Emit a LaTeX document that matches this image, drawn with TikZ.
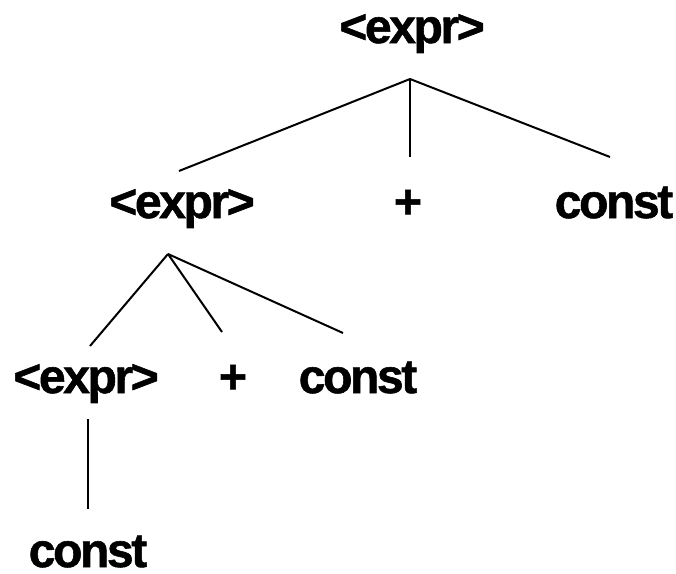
\documentclass[tikz,border=0pt]{standalone}
\usepackage{fontspec}
\newfontfamily\treefont{Liberation Sans}[LetterSpace=-5, BoldFeatures = {FakeBold = 1.2}]
\tikzset{
    sym/.style = {inner sep = 0, anchor = base, text height = 36pt, text depth = 10pt,
        font = \treefont\bfseries\fontsize{48}{52}\selectfont},
}
\begin{document}
\begin{tikzpicture}[x = 1pt, y = -1pt, line width = 2pt]
        \useasboundingbox (0, 0) rectangle (676, 573);
        \node [sym] (e0) at (412, 43) {<expr>};
        \node [sym] (e1) at (182, 218) {<expr>};
        \node [sym] (p1) at (408, 218) {+};
        \node [sym] (c1) at (614, 218) {const};
        \node [sym] (e2) at (86, 393) {<expr>};
        \node [sym] (p2) at (233, 393) {+};
        \node [sym] (c2) at (358, 393) {const};
        \node [sym, text depth = 0pt] (c3) at (88, 567) {const};

        \draw
            ([shift = {(-2pt, -25pt)}] e0.south) coordinate (r0)
            (r0) edge ([shift = {(-3pt, 10pt)}] e1.north)
            (r0) edge ([shift = {(2pt, 24pt)}] p1.north)
            (r0) edge ([shift = {(-4pt, 24pt)}] c1.north)

            ([shift = {(-14pt, -25pt)}] e1.south) coordinate (r1)
            (r1) edge ([shift = {(4pt, 10pt)}] e2.north)
            (r1) edge ([shift = {(-11pt, 24pt)}] p2.north)
            (r1) edge ([shift = {(-15pt, 23pt)}] c2.north)

            ([shift = {(2pt, -15pt)}] e2.south) edge ([yshift = 21pt] c3.north)
        ;
    \end{tikzpicture}
\end{document}
